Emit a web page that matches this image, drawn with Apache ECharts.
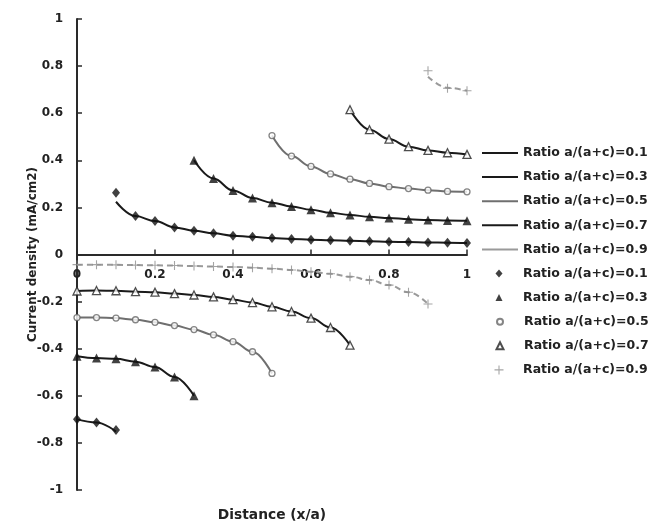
<!DOCTYPE html>
<html>
<head>
<meta charset="utf-8">
<script src="https://cdn.jsdelivr.net/npm/echarts@6/dist/echarts.min.js"></script>
<style>html,body{margin:0;padding:0;background:#fff}#c{width:657px;height:526px}</style>
</head>
<body>
<div id="c"></div>
<script>
// Ratio labels
const ratios = ['0.1', '0.3', '0.5', '0.7', '0.9'];
// X tick labels come from axis: 0..1 step 0.2 ; Y: -1..1 step 0.2

// Ratio 0.1
const x01Pos = [0.1,0.15,0.2,0.25,0.3,0.35,0.4,0.45,0.5,0.55,0.6,0.65,0.7,0.75,0.8,0.85,0.9,0.95,1.0];
const pts01Pos = [0.262,0.163,0.142,0.115,0.101,0.090,0.080,0.075,0.070,0.066,0.063,0.060,0.058,0.056,0.054,0.053,0.051,0.050,0.049];
const line01Pos = [0.224,0.163,0.142,0.115,0.101,0.090,0.080,0.075,0.070,0.066,0.063,0.060,0.058,0.056,0.054,0.053,0.051,0.050,0.049];
const x01Neg = [0,0.05,0.1];
const pts01Neg = [-0.700,-0.713,-0.745];
const line01Neg = [-0.700,-0.713,-0.752];

// Ratio 0.3
const x03Pos = [0.3,0.35,0.4,0.45,0.5,0.55,0.6,0.65,0.7,0.75,0.8,0.85,0.9,0.95,1.0];
const pts03Pos = [0.400,0.323,0.272,0.240,0.220,0.204,0.190,0.177,0.168,0.160,0.155,0.150,0.146,0.144,0.143];
const line03Pos = [0.400,0.323,0.272,0.240,0.220,0.204,0.190,0.177,0.168,0.160,0.155,0.150,0.146,0.144,0.143];
const x03Neg = [0,0.05,0.1,0.15,0.2,0.25,0.3];
const pts03Neg = [-0.432,-0.440,-0.443,-0.455,-0.478,-0.520,-0.600];
const line03Neg = [-0.432,-0.440,-0.443,-0.455,-0.478,-0.520,-0.600];

// Ratio 0.5
const x05Pos = [0.5,0.55,0.6,0.65,0.7,0.75,0.8,0.85,0.9,0.95,1.0];
const pts05Pos = [0.505,0.418,0.374,0.342,0.320,0.302,0.288,0.280,0.273,0.268,0.266];
const line05Pos = [0.505,0.418,0.374,0.342,0.320,0.302,0.288,0.280,0.273,0.268,0.266];
const x05Neg = [0,0.05,0.1,0.15,0.2,0.25,0.3,0.35,0.4,0.45,0.5];
const pts05Neg = [-0.268,-0.268,-0.270,-0.277,-0.288,-0.302,-0.319,-0.341,-0.370,-0.413,-0.505];
const line05Neg = [-0.268,-0.268,-0.270,-0.277,-0.288,-0.302,-0.319,-0.341,-0.370,-0.413,-0.505];

// Ratio 0.7
const x07Pos = [0.7,0.75,0.8,0.85,0.9,0.95,1.0];
const pts07Pos = [0.615,0.530,0.490,0.458,0.442,0.432,0.425];
const line07Pos = [0.615,0.530,0.490,0.458,0.442,0.432,0.425];
const x07Neg = [0,0.05,0.1,0.15,0.2,0.25,0.3,0.35,0.4,0.45,0.5,0.55,0.6,0.65,0.7];
const pts07Neg = [-0.155,-0.153,-0.154,-0.158,-0.160,-0.166,-0.172,-0.180,-0.192,-0.204,-0.222,-0.242,-0.270,-0.310,-0.385];
const line07Neg = [-0.155,-0.153,-0.154,-0.158,-0.160,-0.166,-0.172,-0.180,-0.192,-0.204,-0.222,-0.242,-0.270,-0.310,-0.385];

// Ratio 0.9
const x09Pos = [0.9,0.95,1.0];
const pts09Pos = [0.780,0.706,0.695];
const line09Pos = [0.755,0.708,0.695];
const x09Neg = [0,0.05,0.1,0.15,0.2,0.25,0.3,0.35,0.4,0.45,0.5,0.55,0.6,0.65,0.7,0.75,0.8,0.85,0.9];
const pts09Neg = [-0.043,-0.043,-0.044,-0.045,-0.046,-0.047,-0.049,-0.051,-0.053,-0.056,-0.060,-0.066,-0.073,-0.082,-0.094,-0.108,-0.130,-0.160,-0.210];
const line09Neg = [-0.043,-0.043,-0.044,-0.045,-0.046,-0.047,-0.049,-0.051,-0.053,-0.056,-0.060,-0.066,-0.073,-0.082,-0.094,-0.108,-0.130,-0.160,-0.210];

const zip = (xs, ys) => xs.map((x, i) => [x, ys[i]]);

const curves = [
  { r: '0.1', pos: [x01Pos, line01Pos, pts01Pos], neg: [x01Neg, line01Neg, pts01Neg] },
  { r: '0.3', pos: [x03Pos, line03Pos, pts03Pos], neg: [x03Neg, line03Neg, pts03Neg] },
  { r: '0.5', pos: [x05Pos, line05Pos, pts05Pos], neg: [x05Neg, line05Neg, pts05Neg] },
  { r: '0.7', pos: [x07Pos, line07Pos, pts07Pos], neg: [x07Neg, line07Neg, pts07Neg] },
  { r: '0.9', pos: [x09Pos, line09Pos, pts09Pos], neg: [x09Neg, line09Neg, pts09Neg] }
];

const lineColors = { '0.1': '#1a1a1a', '0.3': '#1a1a1a', '0.5': '#6f6f6f', '0.7': '#1a1a1a', '0.9': '#9a9a9a' };
const plusPath = 'path://M4.4,0 L5.6,0 L5.6,4.4 L10,4.4 L10,5.6 L5.6,5.6 L5.6,10 L4.4,10 L4.4,5.6 L0,5.6 L0,4.4 L4.4,4.4 Z';
const markerStyles = {
  '0.1': { symbol: 'diamond', symbolSize: [8, 10], legendSize: [7, 8], itemStyle: { color: '#111' } },
  '0.3': { symbol: 'triangle', symbolSize: 9, legendSize: [7, 7], itemStyle: { color: '#111' } },
  '0.5': { symbol: 'circle', symbolSize: 6, legendSize: [6, 6], itemStyle: { color: '#fff', borderColor: '#666', borderWidth: 1.3 } },
  '0.7': { symbol: 'triangle', symbolSize: 8, legendSize: [7, 7], itemStyle: { color: '#fff', borderColor: '#222', borderWidth: 1.3 } },
  '0.9': { symbol: plusPath, symbolSize: 9, legendSize: [9, 9], itemStyle: { color: '#8f8f8f' } }
};

const series = [];
curves.forEach(c => {
  [c.pos, c.neg].forEach(part => {
    series.push({
      name: 'L' + c.r,
      type: 'line',
      data: zip(part[0], part[1]),
      symbol: 'none',
      smooth: 0.4,
      smoothMonotone: 'x',
      color: lineColors[c.r],
      lineStyle: { width: 2, color: lineColors[c.r], type: c.r === '0.9' ? [6, 4] : 'solid' },
      z: 2,
      silent: true
    });
  });
});
curves.forEach(c => {
  const ms = markerStyles[c.r];
  series.push({
    name: 'M' + c.r,
    type: 'scatter',
    data: zip(c.pos[0], c.pos[2]).concat(zip(c.neg[0], c.neg[2])),
    symbol: ms.symbol,
    symbolSize: ms.symbolSize,
    itemStyle: ms.itemStyle,
    z: 3,
    silent: true
  });
});

const fontFamily = 'DejaVu Sans';
const legendText = { fontFamily, fontWeight: 'bold', fontSize: 12.5, color: '#222', lineHeight: 14 };
const fmt = n => 'Ratio a/(a+c)=' + n.slice(1);

const gridTop = 19, gridBottom = 36, chartH = 526;
const zeroOffset = -((chartH - gridBottom) - (gridTop + (chartH - gridBottom - gridTop) / 2));

const option = {
  animation: false,
  backgroundColor: '#fff',
  grid: { left: 77, right: 190, top: gridTop, bottom: gridBottom, containLabel: false, outerBoundsMode: 'none' },
  xAxis: {
    type: 'value', min: 0, max: 1, interval: 0.2,
    position: 'bottom', offset: zeroOffset,
    name: 'Distance (x/a)', nameLocation: 'middle', nameGap: 254, nameMoveOverlap: false,
    nameTextStyle: { fontFamily, fontWeight: 'bold', fontSize: 13.8, color: '#222' },
    axisLine: { onZero: false, lineStyle: { color: '#2a2a2a', width: 2 } },
    axisTick: { inside: true, length: 5, lineStyle: { color: '#2a2a2a', width: 1.5 } },
    axisLabel: { margin: 14, fontFamily, fontWeight: 'bold', fontSize: 12, color: '#222' },
    splitLine: { show: false }
  },
  yAxis: {
    type: 'value', min: -1, max: 1, interval: 0.2,
    name: 'Current density (mA/cm2)', nameLocation: 'middle', nameGap: 38, nameRotate: 90, nameMoveOverlap: false,
    nameTextStyle: { fontFamily, fontWeight: 'bold', fontSize: 12, color: '#222' },
    axisLine: { onZero: false, lineStyle: { color: '#2a2a2a', width: 2 } },
    axisTick: { inside: true, length: 5, lineStyle: { color: '#2a2a2a', width: 1.5 } },
    axisLabel: { margin: 14, fontFamily, fontWeight: 'bold', fontSize: 12, color: '#222' },
    splitLine: { show: false }
  },
  legend: [
    {
      orient: 'vertical', left: 482, top: 146, itemGap: 10.1, padding: 0,
      itemWidth: 36, itemHeight: 2, icon: 'rect',
      data: ratios.map(r => ({ name: 'L' + r, itemStyle: { color: lineColors[r] } })),
      formatter: fmt, textStyle: legendText, selectedMode: false
    }
  ].concat(ratios.map((r, i) => ({
      orient: 'vertical', left: 499 - markerStyles[r].legendSize[0] / 2, top: 273.5 + i * 24.1 - 7, padding: 0,
      itemWidth: markerStyles[r].legendSize[0], itemHeight: markerStyles[r].legendSize[1],
      data: [{ name: 'M' + r, icon: markerStyles[r].symbol }],
      formatter: fmt,
      textStyle: Object.assign({}, legendText, { padding: [0, 0, 0, 523 - 5 - (499 + markerStyles[r].legendSize[0] / 2)] }),
      selectedMode: false
  }))),
  series
};

const chart = echarts.init(document.getElementById('c'), null, { renderer: 'canvas' });
chart.setOption(option);
</script>
</body>
</html>
